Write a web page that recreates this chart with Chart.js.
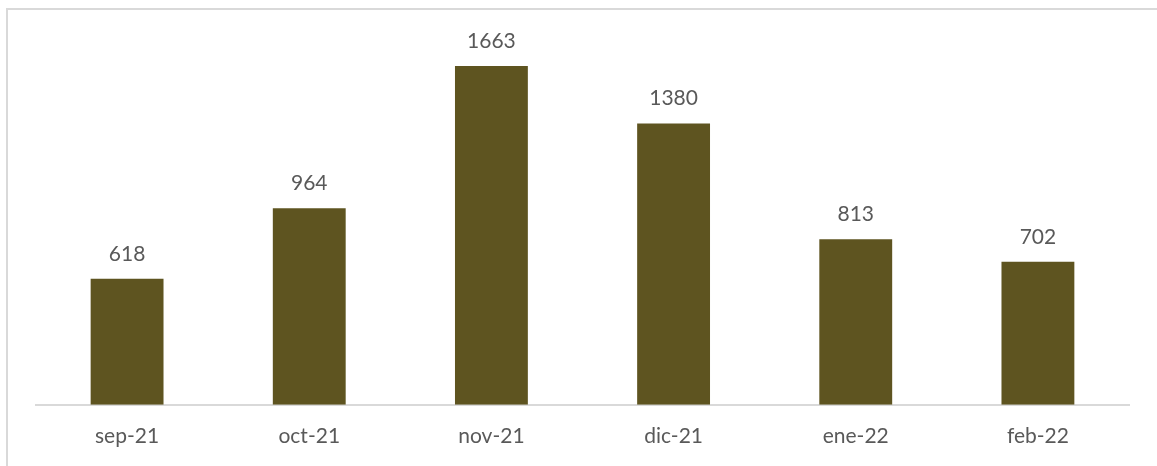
<!DOCTYPE html>
<html>
<head>
<meta charset="utf-8">
<script src="https://cdn.jsdelivr.net/npm/chart.js@4"></script>
<style>
  html, body { margin: 0; padding: 0; background: #fff; overflow: hidden; }
  #box {
    position: absolute; left: 6px; top: 8px; width: 1200px; height: 500px;
    border: 2px solid #d9d9d9; box-sizing: border-box;
  }
  #wrap { position: absolute; left: 0; top: 0; width: 1157px; height: 486px; }
</style>
</head>
<body>
<div id="box"></div>
<div id="wrap"><canvas id="myChart"></canvas></div>
<script>
// datos del gráfico
const labels = ['sep-21', 'oct-21', 'nov-21', 'dic-21', 'ene-22', 'feb-22'];
const values = [618, 964, 1663, 1380, 813, 702];

const barColor = '#5e5420';
const textColor = '#595959';
const fontFamily = 'Lato, "Open Sans", sans-serif';

// etiquetas encima de cada barra
const valueLabels = {
  id: 'valueLabels',
  afterDatasetsDraw(chart) {
    const ctx = chart.ctx;
    const meta = chart.getDatasetMeta(0);
    ctx.save();
    ctx.font = '21px ' + fontFamily;
    ctx.fillStyle = textColor;
    ctx.textAlign = 'center';
    ctx.textBaseline = 'middle';
    meta.data.forEach((bar, i) => {
      ctx.fillText(values[i], bar.x, bar.y - 25);
    });
    ctx.restore();
  }
};

const ctx = document.getElementById('myChart').getContext('2d');
const myChart = new Chart(ctx, {
  type: 'bar',
  data: {
    labels: labels,
    datasets: [{
      data: values,
      backgroundColor: barColor,
      borderWidth: 0,
      categoryPercentage: 1,
      barPercentage: 0.4
    }]
  },
  options: {
    responsive: true,
    maintainAspectRatio: false,
    animation: false,
    layout: { padding: { left: 36, right: 28, top: 38, bottom: 18 } },
    plugins: {
      legend: { display: false },
      tooltip: { enabled: false }
    },
    scales: {
      x: {
        grid: { display: false, drawTicks: false },
        border: { display: true, color: '#d9d9d9', width: 2 },
        ticks: {
          color: textColor,
          padding: 19,
          font: { family: fontFamily, size: 21 }
        }
      },
      y: {
        display: false,
        min: 0,
        max: 1800
      }
    }
  },
  plugins: [valueLabels]
});
</script>
</body>
</html>
